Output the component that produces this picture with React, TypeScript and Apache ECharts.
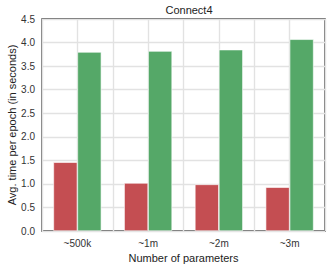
import React, { useEffect, useRef } from "react";
import * as echarts from "echarts";

const title = "Connect4";
const categories = ["~500k", "~1m", "~2m", "~3m"];
const redValues = [1.46, 1.02, 0.99, 0.93];
const greenValues = [3.8, 3.82, 3.85, 4.07];
const yTicks = { min: 0, max: 4.5, interval: 0.5 };
const xName = "Number of parameters";
const yName = "Avg. time per epoch (in seconds)";

const FONT = "Liberation Sans, Arial, sans-serif";

export default function App() {
  const ref = useRef<HTMLDivElement>(null);
  useEffect(() => {
    if (!ref.current) return;
    const chart = echarts.init(ref.current, undefined, { renderer: "svg" });
    chart.setOption({
      animation: false,
      backgroundColor: "#ffffff",
      textStyle: { fontFamily: FONT },
      title: {
        text: title,
        left: 184,
        top: 0,
        padding: [4, 5],
        textAlign: "center",
        textStyle: { fontSize: 11, fontWeight: "normal", color: "#222", fontFamily: FONT },
      },
      grid: {
        left: 42,
        right: 7,
        top: 19,
        bottom: 37,
        outerBoundsMode: "none",
        containLabel: false,
        show: true,
        borderColor: "#333",
        borderWidth: 1.3,
        backgroundColor: "transparent",
      },
      xAxis: [
        {
          type: "category",
          data: categories,
          axisLine: { show: false },
          axisTick: { show: false },
          splitLine: { show: false },
          axisLabel: { color: "#333", fontSize: 10, margin: 7, fontFamily: FONT },
          name: xName,
          nameLocation: "middle",
          nameGap: 21,
          nameMoveOverlap: false,
          nameTextStyle: { color: "#222", fontSize: 11, fontFamily: FONT },
        },
        {
          type: "value",
          min: 0,
          max: 4,
          interval: 0.5,
          position: "bottom",
          axisLine: { show: false },
          axisTick: { show: false },
          axisLabel: { show: false },
          splitLine: { show: true, lineStyle: { color: "#e2e2e2", width: 1.4 } },
        },
      ],
      yAxis: {
        type: "value",
        min: yTicks.min,
        max: yTicks.max,
        interval: yTicks.interval,
        axisLine: { show: false },
        axisTick: { show: false },
        axisLabel: {
          color: "#333",
          fontSize: 10,
          margin: 7,
          fontFamily: FONT,
          formatter: (v: number) => v.toFixed(1),
        },
        splitLine: { show: true, lineStyle: { color: "#e2e2e2", width: 1.4 } },
        name: yName,
        nameLocation: "middle",
        nameGap: 25,
        nameRotate: 90,
        nameMoveOverlap: false,
        nameTextStyle: { color: "#222", fontSize: 11, fontFamily: FONT },
      },
      series: [
        {
          type: "bar",
          xAxisIndex: 0,
          data: redValues,
          barWidth: 24,
          barGap: "0%",
          itemStyle: { color: "#c44e52", borderColor: "#ffffff", borderWidth: 0.6 },
        },
        {
          type: "bar",
          xAxisIndex: 0,
          data: greenValues,
          barWidth: 24,
          barGap: "0%",
          itemStyle: { color: "#55a868", borderColor: "#ffffff", borderWidth: 0.6 },
        },
      ],
    });
    return () => chart.dispose();
  }, []);
  return <div ref={ref} style={{ width: 332, height: 268, position: "absolute", left: 0, top: 0 }} />;
}
